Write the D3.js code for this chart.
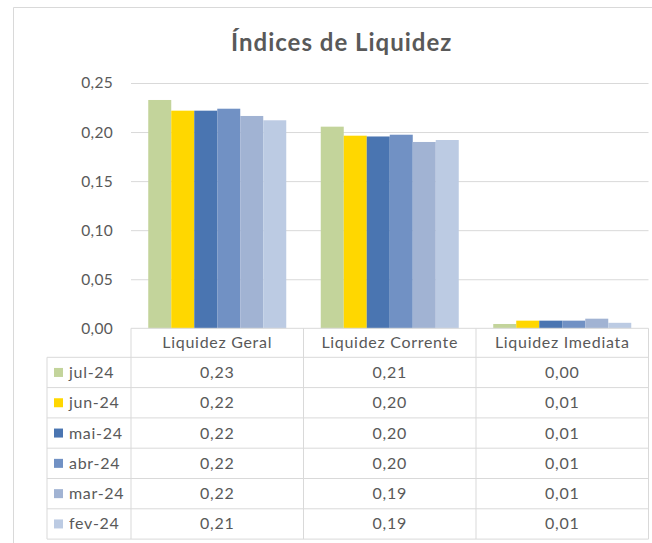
<!DOCTYPE html>
<html>
<head>
<meta charset="utf-8">
<script src="https://cdn.jsdelivr.net/npm/d3@7"></script>
<style>
  body { margin: 0; background: #fff; }
  svg { display: block; font-family: Lato, "Open Sans", sans-serif; }
</style>
</head>
<body>
<div id="chart"></div>
<script>
// chart data
const categories = ['Liquidez Geral', 'Liquidez Corrente', 'Liquidez Imediata'];
const seriesNames = ['jul-24', 'jun-24', 'mai-24', 'abr-24', 'mar-24', 'fev-24'];
const jul24 = [0.2327, 0.2055, 0.0044];
const jun24 = [0.2218, 0.1963, 0.0078];
const mai24 = [0.2218, 0.1955, 0.0078];
const abr24 = [0.2238, 0.1973, 0.0078];
const mar24 = [0.2164, 0.1899, 0.0098];
const fev24 = [0.2120, 0.1919, 0.0056];
const yTicks = [0, 0.05, 0.10, 0.15, 0.20, 0.25];
const colors = ['#c3d49b', '#ffd700', '#4a75b1', '#7191c4', '#a1b3d3', '#bccbe3'];

const series = [jul24, jun24, mai24, abr24, mar24, fev24];

const W = 652, H = 543;
const plotLeft = 131, plotRight = 648.5;
const yBase = 328.3, yTop = 83;
const headerH = 29, rowH = 30.3;
const legendLeft = 47;
const textColor = '#595959';
const lineColor = '#d9d9d9';

const fmt = v => d3.format('.2f')(v).replace('.', ',');

const svg = d3.select('#chart').append('svg')
    .attr('width', W)
    .attr('height', H);

// outer chart frame (cropped on right/bottom)
svg.append('path')
    .attr('d', `M13.5,${H} V7.5 H${W}`)
    .attr('fill', 'none')
    .attr('stroke', lineColor);

svg.append('text')
    .attr('x', 341.7)
    .attr('y', 51)
    .attr('text-anchor', 'middle')
    .attr('font-size', 24)
    .attr('font-weight', 'bold')
    .attr('letter-spacing', 1)
    .attr('fill', textColor)
    .text('Índices de Liquidez');

const y = d3.scaleLinear().domain([0, 0.25]).range([yBase, yTop]);
const x0 = d3.scaleBand().domain(categories).range([plotLeft, plotRight]);
const gap = x0.bandwidth() * 0.1;
const x1 = d3.scaleBand().domain(seriesNames).range([gap, x0.bandwidth() - gap]);

// gridlines
svg.append('g')
    .attr('transform', `translate(${plotLeft},0)`)
    .call(d3.axisRight(y).tickValues(yTicks.slice(1)).tickSize(plotRight - plotLeft).tickFormat(''))
    .call(g => g.select('.domain').remove())
    .selectAll('line')
      .attr('stroke', lineColor);

// y labels
svg.append('g')
    .attr('transform', 'translate(113,0)')
    .call(d3.axisLeft(y).tickValues(yTicks).tickSize(0).tickPadding(0).tickFormat(fmt))
    .call(g => g.select('.domain').remove())
    .selectAll('text')
      .attr('fill', textColor)
      .attr('font-size', 15.5)
      .attr('letter-spacing', 0.3)
      .attr('font-family', 'Lato, sans-serif');

// bars
const groups = svg.append('g').selectAll('g')
    .data(series)
  .enter().append('g')
    .attr('fill', (d, i) => colors[i]);

groups.selectAll('rect')
    .data((d, i) => d.map((v, j) => ({ v, cat: categories[j], s: seriesNames[i] })))
  .enter().append('rect')
    .attr('x', d => x0(d.cat) + x1(d.s))
    .attr('width', x1.bandwidth())
    .attr('y', d => y(d.v))
    .attr('height', d => yBase - y(d.v));

// data table
const table = svg.append('g')
    .attr('font-size', 16)
    .attr('letter-spacing', 0.7)
    .attr('fill', textColor);
const tableBottom = yBase + headerH + rowH * seriesNames.length;

// horizontal lines
table.append('line')
    .attr('x1', plotLeft).attr('x2', plotRight)
    .attr('y1', yBase).attr('y2', yBase)
    .attr('stroke', lineColor);
seriesNames.forEach((s, i) => {
  const yy = yBase + headerH + rowH * i;
  table.append('line')
      .attr('x1', legendLeft).attr('x2', plotRight)
      .attr('y1', yy).attr('y2', yy)
      .attr('stroke', lineColor);
});
table.append('line')
    .attr('x1', legendLeft).attr('x2', plotRight)
    .attr('y1', tableBottom).attr('y2', tableBottom)
    .attr('stroke', lineColor);

// vertical lines
table.append('line')
    .attr('x1', legendLeft).attr('x2', legendLeft)
    .attr('y1', yBase + headerH).attr('y2', tableBottom)
    .attr('stroke', lineColor);
categories.concat(['end']).forEach((c, i) => {
  const xx = plotLeft + x0.step() * i;
  table.append('line')
      .attr('x1', xx).attr('x2', xx)
      .attr('y1', yBase).attr('y2', tableBottom)
      .attr('stroke', lineColor);
});

// header labels
table.selectAll('.head')
    .data(categories)
  .enter().append('text')
    .attr('class', 'head')
    .attr('x', d => x0(d) + x0.bandwidth() / 2)
    .attr('y', yBase + headerH / 2 + 5.5)
    .attr('text-anchor', 'middle')
    .text(d => d);

// rows
seriesNames.forEach((s, i) => {
  const rowY = yBase + headerH + rowH * i;
  table.append('rect')
      .attr('x', 54)
      .attr('y', rowY + rowH / 2 - 4.5)
      .attr('width', 9)
      .attr('height', 9)
      .attr('fill', colors[i]);
  table.append('text')
      .attr('x', 69)
      .attr('y', rowY + rowH / 2 + 5.5)
      .text(s);
  series[i].forEach((v, j) => {
    table.append('text')
        .attr('x', x0(categories[j]) + x0.bandwidth() / 2)
        .attr('y', rowY + rowH / 2 + 5.5)
        .attr('text-anchor', 'middle')
        .text(fmt(v));
  });
});
</script>
</body>
</html>
